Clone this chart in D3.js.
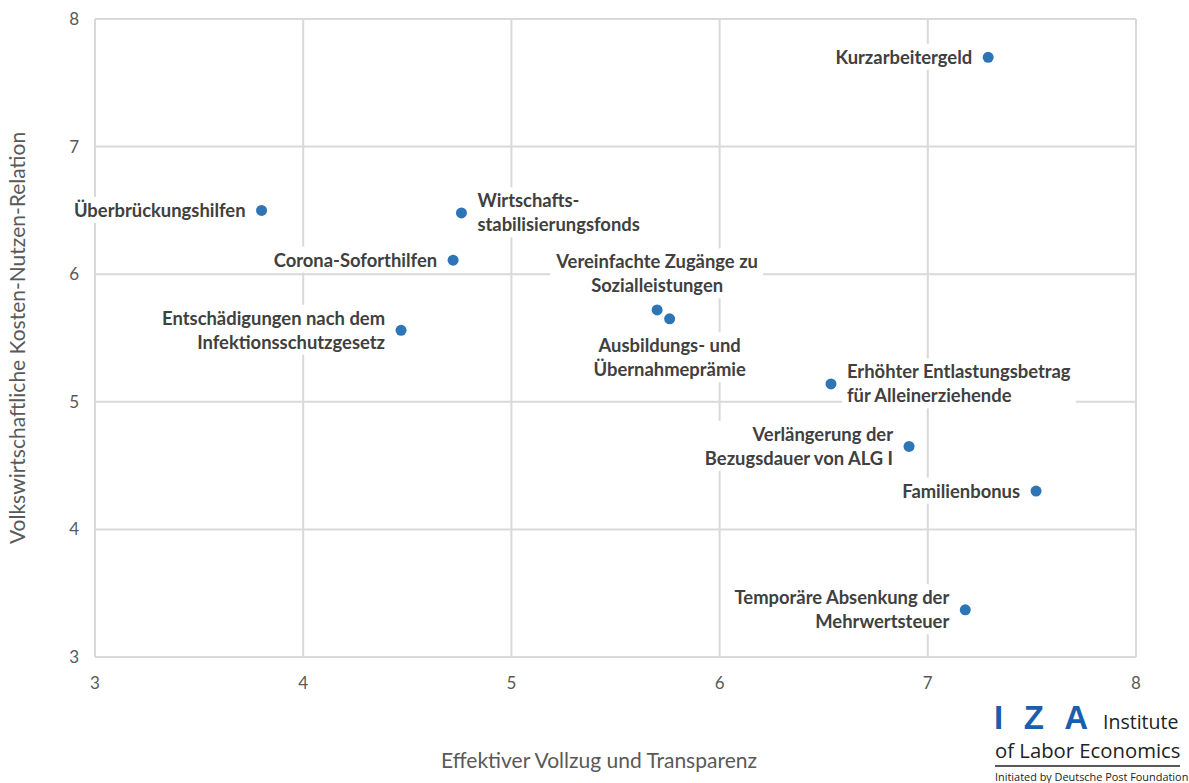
<!DOCTYPE html>
<html>
<head>
<meta charset="utf-8">
<script src="https://cdn.jsdelivr.net/npm/d3@7"></script>
<style>
  body { margin: 0; background: #fff; }
  svg { display: block; }
</style>
</head>
<body>
<div id="chart"></div>
<script>
// data
const names = [
  "Kurzarbeitergeld", "Überbrückungshilfen", "Wirtschafts-|stabilisierungsfonds",
  "Corona-Soforthilfen", "Entschädigungen nach dem|Infektionsschutzgesetz",
  "Vereinfachte Zugänge zu|Sozialleistungen", "Ausbildungs- und|Übernahmeprämie",
  "Erhöhter Entlastungsbetrag|für Alleinerziehende", "Verlängerung der|Bezugsdauer von ALG I",
  "Familienbonus", "Temporäre Absenkung der|Mehrwertsteuer"
];
const xVals = [7.29, 3.80, 4.76, 4.72, 4.47, 5.70, 5.76, 6.535, 6.91, 7.52, 7.18];
const yVals = [7.70, 6.50, 6.48, 6.11, 5.56, 5.72, 5.65, 5.14, 4.65, 4.30, 3.37];
// where the label sits relative to the point
const labelPos = ["left", "left", "right", "left", "left", "above", "below", "right", "left", "left", "left"];
const xTicks = [3, 4, 5, 6, 7, 8];
const yTicks = [3, 4, 5, 6, 7, 8];

const width = 1189, height = 783;
const margin = {top: 19, right: 53, bottom: 126, left: 95};

const svg = d3.select("#chart").append("svg")
    .attr("width", width)
    .attr("height", height)
    .style("font-family", "Lato, 'Open Sans', sans-serif");

const x = d3.scaleLinear().domain([3, 8]).range([margin.left, width - margin.right]);
const y = d3.scaleLinear().domain([3, 8]).range([height - margin.bottom, margin.top]);

// gridlines
svg.append("g")
    .selectAll("line")
    .data(xTicks)
    .enter().append("line")
    .attr("x1", d => x(d)).attr("x2", d => x(d))
    .attr("y1", y(3)).attr("y2", y(8))
    .attr("stroke", "#d9d9d9").attr("stroke-width", 2);

svg.append("g")
    .selectAll("line")
    .data(yTicks)
    .enter().append("line")
    .attr("x1", x(3)).attr("x2", x(8))
    .attr("y1", d => y(d)).attr("y2", d => y(d))
    .attr("stroke", "#d9d9d9").attr("stroke-width", 2);

// tick labels
svg.append("g")
    .selectAll("text")
    .data(yTicks)
    .enter().append("text")
    .attr("x", x(3) - 16)
    .attr("y", d => y(d))
    .attr("dy", "0.35em")
    .attr("text-anchor", "end")
    .attr("font-size", 17)
    .attr("fill", "#595959")
    .text(d => d);

svg.append("g")
    .selectAll("text")
    .data(xTicks)
    .enter().append("text")
    .attr("x", d => x(d))
    .attr("y", y(3) + 26)
    .attr("dy", "0.35em")
    .attr("text-anchor", "middle")
    .attr("font-size", 17)
    .attr("fill", "#595959")
    .text(d => d);

// axis titles
svg.append("text")
    .attr("transform", "translate(25," + ((y(3) + y(8)) / 2) + ") rotate(-90)")
    .attr("text-anchor", "middle")
    .attr("font-size", 21)
    .attr("fill", "#595959")
    .text("Volkswirtschaftliche Kosten-Nutzen-Relation");

svg.append("text")
    .attr("x", 599)
    .attr("y", 768)
    .attr("text-anchor", "middle")
    .attr("font-size", 21)
    .attr("fill", "#595959")
    .text("Effektiver Vollzug und Transparenz");

// points
const pts = names.map((n, i) => ({name: n, x: xVals[i], y: yVals[i], pos: labelPos[i]}));

svg.append("g")
    .selectAll("circle")
    .data(pts)
    .enter().append("circle")
    .attr("cx", d => x(d.x))
    .attr("cy", d => y(d.y))
    .attr("r", 5.5)
    .attr("fill", "#2e75b6");

// labels with white boxes
const lineH = 24;
const labels = svg.append("g").selectAll("g")
    .data(pts)
    .enter().append("g");

labels.each(function(d) {
    const g = d3.select(this);
    const lines = d.name.split("|");
    const px = x(d.x), py = y(d.y);
    let anchor, tx, ty0;
    if (d.pos === "left") {
        anchor = "end"; tx = px - 16; ty0 = py - (lines.length - 1) * lineH / 2;
    } else if (d.pos === "right") {
        anchor = "start"; tx = px + 16; ty0 = py - (lines.length - 1) * lineH / 2;
    } else if (d.pos === "above") {
        anchor = "middle"; tx = px; ty0 = py - 24 - (lines.length - 1) * lineH;
    } else {
        anchor = "middle"; tx = px; ty0 = py + 27;
    }
    const rect = g.append("rect").attr("fill", "#fff");
    const t = g.append("text")
        .attr("text-anchor", anchor)
        .attr("font-size", 18.4)
        .attr("font-weight", "bold")
        .attr("fill", "#404040");
    lines.forEach((l, k) => {
        t.append("tspan")
            .attr("x", tx)
            .attr("y", ty0 + k * lineH)
            .attr("dy", "0.35em")
            .text(l);
    });
    const bb = t.node().getBBox();
    rect.attr("x", bb.x - 5).attr("y", bb.y - 2)
        .attr("width", bb.width + 10).attr("height", bb.height + 4);
});

// IZA logo
const logo = svg.append("g").attr("transform", "translate(995,0)");
logo.append("text")
    .attr("x", -1).attr("y", 729)
    .attr("font-family", "Arial, 'Liberation Sans', sans-serif")
    .attr("font-size", 33)
    .attr("font-weight", "bold")
    .attr("fill", "#1a5fae")
    .attr("letter-spacing", 20.5)
    .text("IZA");
logo.append("text")
    .attr("x", 108).attr("y", 729)
    .attr("font-family", "'Open Sans', sans-serif")
    .attr("font-size", 19.5)
    .attr("fill", "#222")
    .text("Institute");
logo.append("text")
    .attr("x", 0).attr("y", 758)
    .attr("font-family", "'Open Sans', sans-serif")
    .attr("font-size", 20.3)
    .attr("fill", "#222")
    .text("of Labor Economics");
logo.append("line")
    .attr("x1", 0).attr("x2", 185)
    .attr("y1", 766).attr("y2", 766)
    .attr("stroke", "#222").attr("stroke-width", 1.5);
logo.append("text")
    .attr("x", 0).attr("y", 781)
    .attr("font-family", "'Open Sans', sans-serif")
    .attr("font-size", 10.9)
    .attr("fill", "#222")
    .text("Initiated by Deutsche Post Foundation");
</script>
</body>
</html>
